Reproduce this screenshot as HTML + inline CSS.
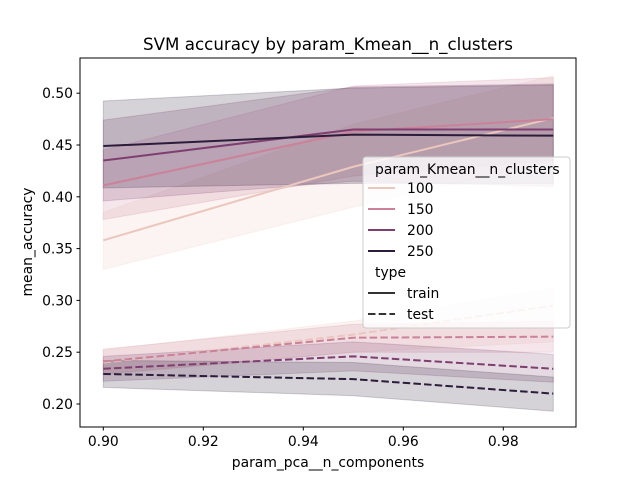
<!DOCTYPE html>
<html><head><meta charset="utf-8"><style>
body{margin:0;background:#fff}
svg text{font-family:"DejaVu Sans","Liberation Sans",sans-serif;fill:#000}
</style></head><body>
<svg id="chart" width="640" height="480" xmlns="http://www.w3.org/2000/svg">
<text x="328" y="50" font-size="16.7" text-anchor="middle">SVM accuracy by param_Kmean__n_clusters</text>
<g id="plot"></g>
<rect x="80" y="58" width="496" height="369" fill="none" stroke="#000" stroke-width="1"/>
<g id="axes"></g>
<text x="328" y="467" font-size="13.9" text-anchor="middle">param_pca__n_components</text>
<text transform="translate(32,242) rotate(-90)" font-size="13.9" text-anchor="middle">mean_accuracy</text>
<g id="legend"></g>
</svg>
<script>
const xValues=[0.90,0.95,0.99];
const clusters=["100","150","200","250"];
const colors=["#ebc7bd","#cb8299","#7e3f70","#2c1c3b"];
const trainMean=[[0.358,0.429,0.476],[0.411,0.463,0.475],[0.435,0.465,0.465],[0.449,0.460,0.459]];
const trainLo=[[0.330,0.390,0.435],[0.378,0.420,0.435],[0.396,0.415,0.410],[0.4085,0.413,0.413]];
const trainHi=[[0.385,0.470,0.517],[0.445,0.507,0.515],[0.474,0.506,0.509],[0.4925,0.505,0.508]];
const testMean=[[0.240,0.267,0.295],[0.241,0.264,0.265],[0.234,0.246,0.234],[0.229,0.224,0.210]];
const testLo=[[0.228,0.250,0.260],[0.229,0.250,0.250],[0.222,0.232,0.221],[0.216,0.208,0.193]];
const testHi=[[0.252,0.280,0.312],[0.253,0.277,0.280],[0.246,0.260,0.248],[0.242,0.240,0.226]];
const xTicks=[0.90,0.92,0.94,0.96,0.98];
const yTicks=[0.20,0.25,0.30,0.35,0.40,0.45,0.50];
const NS="http://www.w3.org/2000/svg";
function X(v){return 103.3+(v-0.90)*5000;}
function Y(v){return 404-(v-0.20)*1036;}
function mk(tag,attrs,parent){const e=document.createElementNS(NS,tag);for(const k in attrs)e.setAttribute(k,attrs[k]);parent.appendChild(e);return e;}
const plot=document.getElementById('plot');
function band(lo,hi,c,name){
  let p=xValues.map((x,i)=>X(x)+","+Y(hi[i])).join(" ")+" "+xValues.map((x,i)=>X(x)+","+Y(lo[i])).reverse().join(" ");
  const e=mk('polygon',{points:p,fill:c,'fill-opacity':0.2,stroke:c,'stroke-opacity':0.2},plot);
  
  
}
function line(m,c,dash,name){
  const e=mk('polyline',{points:xValues.map((x,i)=>X(x)+","+Y(m[i])).join(" "),fill:'none',stroke:c,'stroke-width':2},plot);
  if(dash)e.setAttribute('stroke-dasharray','7.5,3.2');
  
  
}
for(let k=0;k<4;k++){band(trainLo[k],trainHi[k],colors[k],'train-band-'+clusters[k]);band(testLo[k],testHi[k],colors[k],'test-band-'+clusters[k]);}
for(let k=0;k<4;k++){line(trainMean[k],colors[k],false,'train-line-'+clusters[k]);line(testMean[k],colors[k],true,'test-line-'+clusters[k]);}
const axes=document.getElementById('axes');
xTicks.forEach(t=>{const x=X(t);
 mk('line',{x1:x,x2:x,y1:427,y2:430.5,stroke:'#000'},axes);
 const tx=mk('text',{x:x,y:446,'font-size':13.9,'text-anchor':'middle'},axes);tx.textContent=t.toFixed(2);
 
 });
yTicks.forEach(t=>{const y=Y(t);
 mk('line',{x1:76.5,x2:80,y1:y,y2:y,stroke:'#000'},axes);
 const tx=mk('text',{x:73,y:y+5,'font-size':13.9,'text-anchor':'end'},axes);tx.textContent=t.toFixed(2);
 
 });
const lg=document.getElementById('legend');
mk('rect',{x:363,y:157,width:207,height:171,rx:3,fill:'#fff','fill-opacity':0.8,stroke:'#ccc'},lg);
let t=mk('text',{x:375,y:174,'font-size':13.9},lg);t.textContent='param_Kmean__n_clusters';
clusters.forEach((c,i)=>{const y=193+i*21;
 mk('line',{x1:368,x2:395,y1:y-5,y2:y-5,stroke:colors[i],'stroke-width':2},lg);
 const e=mk('text',{x:407,y:y,'font-size':13.9},lg);e.textContent=c;
 
 });
t=mk('text',{x:375,y:277,'font-size':13.9},lg);t.textContent='type';
[['train',false],['test',true]].forEach((d,i)=>{const y=298+i*21;
 const l=mk('line',{x1:368,x2:395,y1:y-5,y2:y-5,stroke:'#333','stroke-width':2},lg);
 if(d[1])l.setAttribute('stroke-dasharray','7.5,3.2');
 const e=mk('text',{x:407,y:y,'font-size':13.9},lg);e.textContent=d[0];
 
 });
</script>
</body></html>
